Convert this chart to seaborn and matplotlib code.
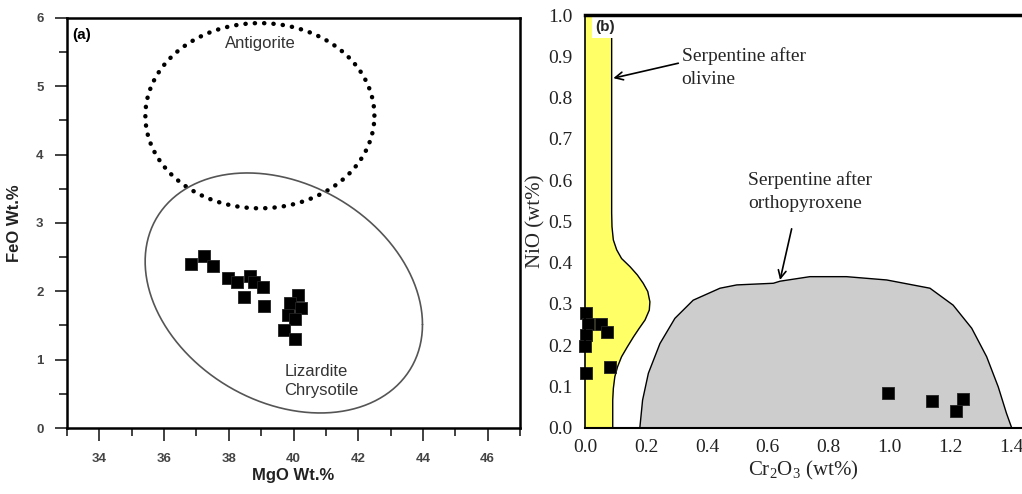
import numpy as np
import pandas as pd
import matplotlib
matplotlib.use("Agg")
import matplotlib.pyplot as plt
import seaborn as sns
from matplotlib.ticker import MultipleLocator

sns.set_theme(style="ticks")
plt.rcParams['font.family'] = ['Liberation Sans', 'DejaVu Sans']

# ---------------- data: panel (a) ----------------
mgo = [36.84, 37.22, 37.50, 37.97, 38.26, 38.66, 38.79, 39.05, 38.48, 39.08,
       40.14, 39.89, 40.22, 39.82, 40.04, 39.71, 40.04]
feo = [2.40, 2.51, 2.37, 2.20, 2.14, 2.22, 2.14, 2.07, 1.92, 1.79,
       1.94, 1.83, 1.75, 1.65, 1.59, 1.44, 1.30]

antig_center = (38.96, 4.57)
antig_semi = (3.54, 1.355)
liz_center = (39.70, 1.976)
liz_cov = [[18.37, -1.978], [-1.978, 3.084]]

# ---------------- data: panel (b) ----------------
cr2o3 = [0.002, 0.009, 0.051, 0.073, 0.002, 0.0, 0.082, 0.002, 0.995, 1.140, 1.216, 1.241]
nio = [0.277, 0.251, 0.251, 0.231, 0.225, 0.199, 0.148, 0.133, 0.085, 0.065, 0.040, 0.069]

oliv_y = [0.0, 0.067, 0.095, 0.124, 0.148, 0.172, 0.196, 0.220, 0.241, 0.261, 0.285,
          0.305, 0.330, 0.350, 0.370, 0.390, 0.410, 0.431, 0.455, 0.487, 0.52, 1.0]
oliv_x = [0.091, 0.091, 0.093, 0.098, 0.107, 0.120, 0.139, 0.159, 0.178, 0.197, 0.211,
          0.213, 0.206, 0.191, 0.172, 0.148, 0.120, 0.104, 0.093, 0.0886, 0.0875, 0.0875]

opx_x = [0.180, 0.189, 0.208, 0.246, 0.295, 0.355, 0.443, 0.498, 0.618, 0.640, 0.738,
         0.858, 0.990, 1.132, 1.208, 1.269, 1.318, 1.356, 1.383, 1.400]
opx_y = [0.0, 0.067, 0.132, 0.204, 0.265, 0.309, 0.338, 0.346, 0.350, 0.355, 0.366,
         0.366, 0.358, 0.338, 0.297, 0.241, 0.172, 0.099, 0.035, 0.0]

df_a = pd.DataFrame({"MgO": mgo, "FeO": feo})
df_b = pd.DataFrame({"Cr2O3": cr2o3, "NiO": nio})

fig = plt.figure(figsize=(10.22, 4.94), dpi=100)
ax1 = fig.add_axes([0.0656, 0.1336, 0.4432, 0.8300])
ax2 = fig.add_axes([0.5724, 0.1342, 0.4276, 0.8354])

# ---------------- panel (a) ----------------
t = np.linspace(0, 2 * np.pi, 400)
ax1.plot(antig_center[0] + antig_semi[0] * np.cos(t),
         antig_center[1] + antig_semi[1] * np.sin(t),
         color="black", lw=3.2, linestyle=(0, (0.05, 2.05)),
         dash_capstyle="round", zorder=2)
L = np.linalg.cholesky(np.array(liz_cov))
pts = L @ np.vstack([np.cos(t), np.sin(t)])
ax1.plot(liz_center[0] + pts[0], liz_center[1] + pts[1], color="#555555", lw=1.2, zorder=2)

sns.scatterplot(data=df_a, x="MgO", y="FeO", ax=ax1, marker="s", s=80,
                color="black", edgecolor="#222222", linewidth=0.6, zorder=3)

ax1.text(antig_center[0], 5.63, "Antigorite", ha="center", va="center",
         fontsize=12, color="#333333")
ax1.text(39.72, 0.69, "Lizardite\nChrysotile", ha="left", va="center",
         fontsize=12, color="#333333", linespacing=1.35)
ax1.text(0.012, 0.975, "(a)", transform=ax1.transAxes, ha="left", va="top",
         fontsize=11, fontweight="bold", color="black")

ax1.set_xlim(33, 47)
ax1.set_ylim(0, 6)
ax1.set_xticks(np.arange(34, 47, 2))
ax1.set_xticks(np.arange(33, 48, 1), minor=True)
ax1.yaxis.set_major_locator(MultipleLocator(1))
ax1.yaxis.set_minor_locator(MultipleLocator(0.5))
ax1.tick_params(axis="both", which="major", direction="out", length=9, width=1.3,
                color="#333333", labelsize=9.5, labelcolor="#444444", bottom=True, left=True)
ax1.tick_params(axis="both", which="minor", direction="out", length=6, width=1.3,
                color="#333333", bottom=True, left=True)
ax1.tick_params(axis="x", which="major", pad=9)
ax1.tick_params(axis="y", which="major", pad=8)
for lab in ax1.get_xticklabels() + ax1.get_yticklabels():
    lab.set_fontweight("bold")
for sp in ax1.spines.values():
    sp.set_visible(True)
    sp.set_color("black")
    sp.set_linewidth(1.8)
ax1.set_xlabel("MgO Wt.%", fontsize=12, fontweight="bold", color="#222222", labelpad=2)
ax1.set_ylabel("FeO Wt.%", fontsize=12, fontweight="bold", color="#222222", labelpad=10)

# ---------------- panel (b) ----------------
serif = ['Liberation Serif', 'DejaVu Serif']
ax2.fill_betweenx(oliv_y, 0, oliv_x, color="#FFFF66", lw=0, zorder=1)
ax2.plot(oliv_x, oliv_y, color="black", lw=1.0, zorder=2)
ax2.fill(opx_x, opx_y, facecolor="#CDCDCD", edgecolor="black", lw=1.0, zorder=1)

sns.scatterplot(data=df_b, x="Cr2O3", y="NiO", ax=ax2, marker="s", s=80,
                color="black", edgecolor="#222222", linewidth=0.6, zorder=3,
                clip_on=False)

ax2.annotate("Serpentine after\nolivine", xy=(0.093, 0.847), xytext=(0.317, 0.873),
             ha="left", va="center", fontsize=14, family=serif, linespacing=1.5,
             arrowprops=dict(arrowstyle="->", color="black", lw=1.2,
                             shrinkA=0, shrinkB=0, relpos=(0, 0.62)))
ax2.annotate("Serpentine after\northopyroxene", xy=(0.640, 0.358), xytext=(0.536, 0.572),
             ha="left", va="center", fontsize=14, family=serif, linespacing=1.45,
             arrowprops=dict(arrowstyle="->", color="black", lw=1.2,
                             shrinkA=10, shrinkB=0, relpos=(0.38, 0.0)))
ax2.text(0.035, 0.97, "(b)", ha="left", va="center", fontsize=11, fontweight="bold",
         bbox=dict(facecolor="white", edgecolor="none", pad=2.5), zorder=4)

ax2.set_xlim(0, 1.434)
ax2.set_ylim(0, 1.0)
ax2.set_xticks(np.arange(0, 1.41, 0.2))
ax2.set_yticks(np.arange(0, 1.01, 0.1))
ax2.set_xticklabels([f"{v:.1f}" for v in np.arange(0, 1.41, 0.2)], family=serif, fontsize=14)
ax2.set_yticklabels([f"{v:.1f}" for v in np.arange(0, 1.01, 0.1)], family=serif, fontsize=14)
ax2.tick_params(axis="both", length=0, labelcolor="#222222")
ax2.tick_params(axis="x", pad=8)
ax2.tick_params(axis="y", pad=9)
ax2.spines["right"].set_visible(False)
ax2.spines["top"].set_linewidth(2.5)
ax2.spines["left"].set_linewidth(1.2)
ax2.spines["bottom"].set_linewidth(1.5)
for sp in ax2.spines.values():
    sp.set_color("black")
    sp.set_zorder(5)
ax2.set_xlabel(r"Cr$_\mathregular{2}$O$_\mathregular{3}$ (wt%)", fontsize=15, family=serif, labelpad=2)
ax2.set_ylabel("NiO (wt%)", fontsize=15, family=serif, labelpad=2)

fig.savefig("out.png", dpi=100)
